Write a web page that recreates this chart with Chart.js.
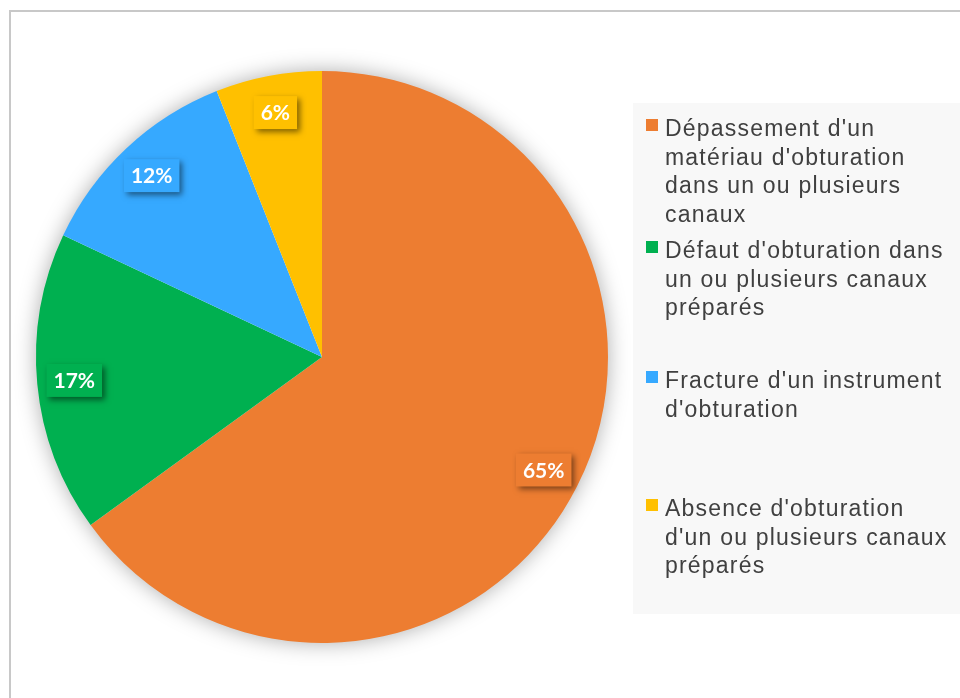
<!DOCTYPE html>
<html>
<head>
<meta charset="utf-8">
<script src="https://cdn.jsdelivr.net/npm/chart.js@4.4.1/dist/chart.umd.min.js"></script>
<style>
  html, body { margin: 0; padding: 0; width: 960px; height: 698px; overflow: hidden; background: #fff; }
  #frame { position: absolute; left: 9px; top: 10px; width: 1000px; height: 800px; border: 2px solid #c8c8c8; }
  #chartBox { position: absolute; left: 0; top: 0; width: 644px; height: 698px; }
  #legend { position: absolute; left: 633px; top: 103px; width: 340px; height: 511px; background: #f8f8f8; }
  #legend ul { list-style: none; margin: 0; padding: 11px 0 0 0; }
  #legend li { position: relative; height: 128px; padding-left: 32px; box-sizing: border-box;
    font: 23px "Liberation Sans", Arial, sans-serif; letter-spacing: 1.2px; line-height: 28.7px;
    color: #404040; white-space: pre-line; }
  #legend li:nth-child(1) { height: 122px; }
  #legend li:nth-child(2) { height: 130px; }
  #legend li span { position: absolute; left: 13px; top: 5px; width: 12px; height: 12px; }
</style>
</head>
<body>
<div id="frame"></div>
<div id="chartBox"><canvas id="pieChart"></canvas></div>
<div id="legend"></div>
<script>
// data
const labels = [
  "Dépassement d'un\nmatériau d'obturation\ndans un ou plusieurs\ncanaux",
  "Défaut d'obturation dans\nun ou plusieurs canaux\npréparés",
  "Fracture d'un instrument\nd'obturation",
  "Absence d'obturation\nd'un ou plusieurs canaux\npréparés"
];
const percentages = [65, 17, 12, 6];
const sliceColors = ["#ED7D31", "#00B050", "#36A9FF", "#FFC000"];

// soft shadow behind the whole pie
const pieShadow = {
  id: "pieShadow",
  beforeDatasetsDraw(chart) {
    const arc = chart.getDatasetMeta(0).data[0];
    if (!arc) return;
    const ctx = chart.ctx;
    ctx.save();
    ctx.shadowColor = "rgba(0,0,0,0.35)";
    ctx.shadowBlur = 22;
    ctx.beginPath();
    ctx.arc(arc.x, arc.y, arc.outerRadius - 1, 0, Math.PI * 2);
    ctx.fillStyle = "#fff";
    ctx.fill();
    ctx.restore();
  },
};

// percentage boxes on the slices
const sliceLabels = {
  id: "sliceLabels",
  afterDatasetsDraw(chart) {
    const ctx = chart.ctx;
    const ds = chart.data.datasets[0];
    chart.getDatasetMeta(0).data.forEach((arc, i) => {
      const p = arc.getProps(["x", "y", "startAngle", "endAngle", "outerRadius"], true);
      const a = (p.startAngle + p.endAngle) / 2;
      const r = p.outerRadius * 0.87;
      const x = p.x + Math.cos(a) * r;
      const y = p.y + Math.sin(a) * r;
      const text = ds.data[i] + "%";
      ctx.save();
      ctx.font = "bold 21px Lato, sans-serif";
      const w = ctx.measureText(text).width + 14;
      const h = 33;
      ctx.shadowColor = "rgba(0,0,0,0.5)";
      ctx.shadowBlur = 6;
      ctx.shadowOffsetX = 3;
      ctx.shadowOffsetY = 3;
      ctx.fillStyle = ds.backgroundColor[i];
      ctx.fillRect(x - w / 2, y - h / 2, w, h);
      ctx.shadowColor = "transparent";
      ctx.fillStyle = "#fff";
      ctx.textAlign = "center";
      ctx.textBaseline = "middle";
      ctx.fillText(text, x, y + 1);
      ctx.restore();
    });
  },
};

// html legend on the right
const htmlLegend = {
  id: "htmlLegend",
  afterUpdate(chart) {
    const box = document.getElementById("legend");
    const items = chart.options.plugins.legend.labels.generateLabels(chart);
    const ul = document.createElement("ul");
    items.forEach((item) => {
      const li = document.createElement("li");
      const mark = document.createElement("span");
      mark.style.background = item.fillStyle;
      li.appendChild(mark);
      li.appendChild(document.createTextNode(item.text));
      ul.appendChild(li);
    });
    box.innerHTML = "";
    box.appendChild(ul);
  },
};

new Chart(document.getElementById("pieChart"), {
  type: "pie",
  data: {
    labels: labels,
    datasets: [
      {
        data: percentages,
        backgroundColor: sliceColors,
        borderWidth: 0,
      },
    ],
  },
  options: {
    responsive: true,
    maintainAspectRatio: false,
    animation: false,
    layout: { padding: { left: 36, right: 36, top: 71, bottom: 55 } },
    plugins: {
      legend: { display: false },
      tooltip: { enabled: false },
    },
  },
  plugins: [pieShadow, sliceLabels, htmlLegend],
});
</script>
</body>
</html>
